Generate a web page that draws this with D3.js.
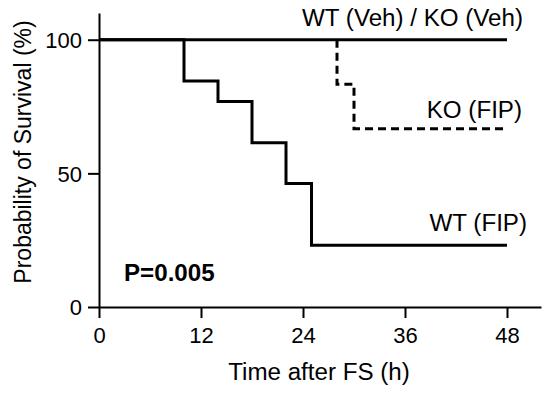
<!DOCTYPE html>
<html>
<head>
<meta charset="utf-8">
<script src="https://cdn.jsdelivr.net/npm/d3@7"></script>
<style>
  body { margin: 0; background: #fff; }
  svg text { font-family: "Liberation Sans", Arial, sans-serif; fill: #000; }
</style>
</head>
<body>
<div class="content"></div>
<script>
// survival steps: [time (h), survival (%)]
var wtVeh = [[0, 100], [48, 100]];
var koFip = [[0, 100], [28, 100], [28, 83.3], [30, 83.3], [30, 66.7], [48, 66.7]];
var wtFip = [[0, 100], [10, 100], [10, 84.6], [14, 84.6], [14, 76.9], [18, 76.9], [18, 61.5],
             [22, 61.5], [22, 46.2], [25, 46.2], [25, 23.1], [48, 23.1]];
var xTicks = [0, 12, 24, 36, 48];
var yTicks = [0, 50, 100];
var labels = [
  { text: 'WT (Veh) / KO (Veh)', t: 48, v: 100, dy: -14, dx: 16 },
  { text: 'KO (FIP)', t: 48, v: 66.7, dy: -11, dx: 15 },
  { text: 'WT (FIP)', t: 48, v: 23.1, dy: -14, dx: 20 }
];

const W = 550, H = 394;
const SX = 1.05; // the source picture is slightly wider than tall
const svg = d3.select('.content').append('svg').attr('width', W).attr('height', H);

const x = d3.scaleLinear().domain([0, 52]).range([99, 541]);
const y = d3.scaleLinear().domain([0, 110]).range([307, 13]);

const xAxis = svg.append('g')
  .attr('transform', `translate(0,${y(0)})`)
  .call(d3.axisBottom(x).tickValues(xTicks).tickSize(11).tickPadding(6).tickSizeOuter(0));
const yAxis = svg.append('g')
  .attr('transform', `translate(${x(0)},0)`)
  .call(d3.axisLeft(y).tickValues(yTicks).tickSize(11).tickPadding(6).tickSizeOuter(0));

[xAxis, yAxis].forEach(a => {
  a.select('.domain').attr('stroke', '#000').attr('stroke-width', 2);
  a.selectAll('.tick line').attr('stroke', '#000').attr('stroke-width', 2);
  a.selectAll('.tick text').attr('font-size', 22).attr('font-family', '"Liberation Sans", Arial, sans-serif').attr('fill', '#000');
});
xAxis.selectAll('.tick text').attr('dy', '0.85em');
yAxis.selectAll('.tick text').attr('dy', '0.36em');

const line = d3.line().x(d => x(d[0])).y(d => y(d[1]));

svg.append('path').datum(wtVeh).attr('d', line)
  .attr('fill', 'none').attr('stroke', '#000').attr('stroke-width', 3);
svg.append('path').datum(wtFip).attr('d', line)
  .attr('fill', 'none').attr('stroke', '#000').attr('stroke-width', 3);
svg.append('path').datum(koFip.slice(1)).attr('d', line)
  .attr('fill', 'none').attr('stroke', '#000').attr('stroke-width', 3)
  .attr('stroke-dasharray', '8,5');

function stretched(px, py) { return `translate(${px},${py}) scale(${SX},1)`; }

svg.selectAll('.series-label').data(labels).enter().append('text')
  .attr('class', 'series-label')
  .attr('transform', d => stretched(x(d.t) + d.dx, y(d.v) + d.dy))
  .attr('text-anchor', 'end')
  .attr('font-size', 23)
  .text(d => d.text);

svg.append('text')
  .attr('transform', stretched(124, 281))
  .attr('font-size', 23).attr('font-weight', 'bold')
  .text('P=0.005');

svg.append('text')
  .attr('transform', stretched(319, 380))
  .attr('text-anchor', 'middle').attr('font-size', 23)
  .text('Time after FS (h)');

svg.append('text')
  .attr('transform', `translate(31,152) rotate(-90)`)
  .attr('text-anchor', 'middle').attr('font-size', 23)
  .text('Probability of Survival (%)');
</script>
</body>
</html>
